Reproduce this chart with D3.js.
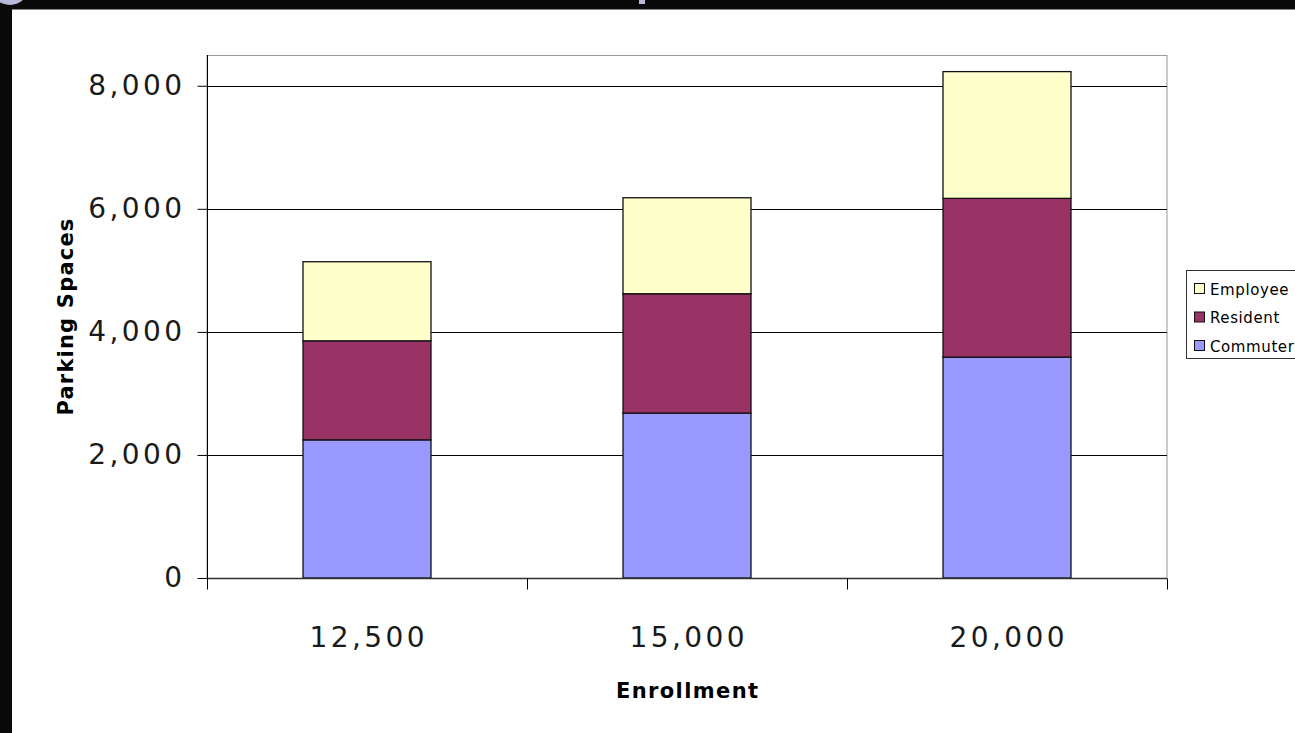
<!DOCTYPE html>
<html>
<head>
<meta charset="utf-8">
<script src="https://cdn.jsdelivr.net/npm/d3@7"></script>
<style>
  html, body { margin: 0; padding: 0; background: #0a0a0a; }
  svg { display: block; }
</style>
</head>
<body>
<svg id="chart" width="1295" height="733"></svg>
<script>
// Parking demand by enrollment level
const categories = ["12,500", "15,000", "20,000"];
const commuter = [2245, 2680, 3590];
const resident = [1610, 1940, 2580];
const employee = [1285, 1560, 2060];
const seriesNames = ["Commuter", "Resident", "Employee"];
const seriesColors = ["#9999FF", "#993366", "#FFFFCC"];
const yTicks = [0, 2000, 4000, 6000, 8000];

const svg = d3.select("#chart");
const W = 1295, H = 733;
const tickFont = "'DejaVu Sans', sans-serif";
const tickSpacing = 3.4;

// slide frame
svg.append("rect").attr("width", W).attr("height", H).attr("fill", "#0a0a0a");
svg.append("circle").attr("cx", 10).attr("cy", -14).attr("r", 19).attr("fill", "#b8b8d8");
svg.append("rect").attr("x", 639).attr("y", 0).attr("width", 6).attr("height", 4).attr("fill", "#b8b8d8");
svg.append("rect").attr("x", 12).attr("y", 9).attr("width", W - 12).attr("height", H - 9)
  .attr("fill", "#ffffff");
svg.append("line").attr("x1", 12).attr("x2", W).attr("y1", 9.5).attr("y2", 9.5)
  .attr("stroke", "#888").attr("stroke-width", 1);

const plot = { left: 207, right: 1167, top: 55, bottom: 578 };

const x = d3.scaleBand().domain(categories).range([plot.left, plot.right]).paddingInner(0);
const y = d3.scaleLinear().domain([0, 8500]).range([plot.bottom, plot.top]);

const rows = categories.map((c, i) => ({
  cat: c, Commuter: commuter[i], Resident: resident[i], Employee: employee[i]
}));
const stacked = d3.stack().keys(seriesNames)(rows);

// plot area border
svg.append("rect")
  .attr("x", plot.left).attr("y", plot.top + 0.5)
  .attr("width", plot.right - plot.left).attr("height", plot.bottom - plot.top)
  .attr("fill", "none").attr("stroke", "#999").attr("stroke-width", 1);

// gridlines
svg.append("g").selectAll("line")
  .data(yTicks.filter(d => d > 0))
  .join("line")
  .attr("x1", plot.left).attr("x2", plot.right)
  .attr("y1", d => Math.round(y(d)) + 0.5).attr("y2", d => Math.round(y(d)) + 0.5)
  .attr("stroke", "#000").attr("stroke-width", 1);

// bars
const barW = x.bandwidth() * 0.4;
svg.append("g").selectAll("g")
  .data(stacked)
  .join("g")
  .attr("fill", (d, i) => seriesColors[i])
  .selectAll("rect")
  .data(d => d)
  .join("rect")
  .attr("x", d => x(d.data.cat) + (x.bandwidth() - barW) / 2)
  .attr("y", d => y(d[1]))
  .attr("width", barW)
  .attr("height", d => y(d[0]) - y(d[1]))
  .attr("stroke", "#111").attr("stroke-width", 1.3);

// y axis
const yAxis = d3.axisLeft(y).tickValues(yTicks).tickSize(10).tickPadding(12)
  .tickFormat(d3.format(","));
const gy = svg.append("g").attr("transform", `translate(${plot.left + 0.5},0)`).call(yAxis);
gy.select(".domain").attr("stroke", "#000").attr("d", `M0,${plot.top}V${plot.bottom}`);
gy.selectAll(".tick line").attr("stroke", "#000");
gy.selectAll(".tick text")
  .attr("font-family", tickFont)
  .attr("font-size", 28).attr("letter-spacing", tickSpacing).attr("fill", "#1a1a1a");

// x axis with boundary ticks between categories
const gx = svg.append("g").attr("transform", `translate(0,${plot.bottom + 0.5})`);
gx.append("line").attr("x1", plot.left).attr("x2", plot.right)
  .attr("stroke", "#333").attr("stroke-width", 1.5);
const bounds = categories.map(c => x(c)).concat([plot.right]);
gx.selectAll(".bt").data(bounds).join("line").attr("class", "bt")
  .attr("x1", d => d + 0.5).attr("x2", d => d + 0.5).attr("y1", 0).attr("y2", 11)
  .attr("stroke", "#000");
gx.selectAll("text").data(categories).join("text")
  .attr("x", d => x(d) + x.bandwidth() / 2 + tickSpacing / 2)
  .attr("y", 68)
  .attr("text-anchor", "middle")
  .attr("font-family", tickFont)
  .attr("font-size", 28).attr("letter-spacing", tickSpacing).attr("fill", "#1a1a1a")
  .text(d => d);

// axis titles
svg.append("text")
  .attr("x", (plot.left + plot.right) / 2 + 0.7).attr("y", 698)
  .attr("text-anchor", "middle")
  .attr("font-family", "'DejaVu Sans', sans-serif").attr("font-weight", 700)
  .attr("font-size", 21).attr("letter-spacing", 1.4).attr("fill", "#000")
  .text("Enrollment");
svg.append("text")
  .attr("transform", `translate(73,${(plot.top + plot.bottom) / 2}) rotate(-90)`)
  .attr("text-anchor", "middle")
  .attr("font-family", "'DejaVu Sans', sans-serif").attr("font-weight", 700)
  .attr("font-size", 21).attr("letter-spacing", 1.2).attr("fill", "#000")
  .text("Parking Spaces");

// legend
const lg = svg.append("g").attr("transform", "translate(1186,270)");
lg.append("rect").attr("x", 0.5).attr("y", 0.5).attr("width", 150).attr("height", 88)
  .attr("fill", "#fff").attr("stroke", "#333");
const legendOrder = [2, 1, 0];
lg.selectAll("g.item").data(legendOrder).join("g").attr("class", "item")
  .attr("transform", (d, i) => `translate(8,${19 + i * 28.5})`)
  .each(function (d) {
    const g = d3.select(this);
    g.append("rect").attr("x", 0.5).attr("y", -5.5).attr("width", 10).attr("height", 10)
      .attr("fill", seriesColors[d]).attr("stroke", "#111");
    g.append("text").attr("x", 16).attr("y", 5.5)
      .attr("font-family", "'DejaVu Sans', sans-serif").attr("font-size", 15)
      .attr("letter-spacing", 0.6).attr("fill", "#000")
      .text(seriesNames[d]);
  });
</script>
</body>
</html>
